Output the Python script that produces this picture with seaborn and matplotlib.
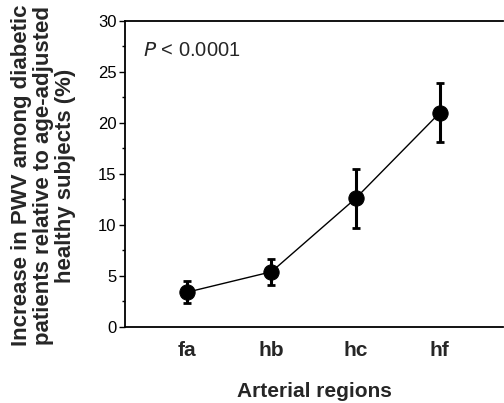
import numpy as np
import matplotlib
matplotlib.use("Agg")
import matplotlib.pyplot as plt
from matplotlib.ticker import MultipleLocator
import seaborn as sns

regions = ["fa", "hb", "hc", "hf"]
increase = [3.4, 5.4, 12.6, 21.0]
err = [1.1, 1.25, 2.9, 2.9]

sns.set_style("ticks")
plt.rcParams['font.family'] = ['Liberation Sans', 'DejaVu Sans']

fig = plt.figure(figsize=[5.04, 4.03], dpi=100)
ax = fig.add_axes([0.248, 0.189, 0.75, 0.759])

x = np.arange(len(regions))
ax.errorbar(x, increase, yerr=err, fmt='none', ecolor='black',
            elinewidth=2.2, capsize=3, capthick=2, zorder=2)
sns.lineplot(x=x, y=increase, color='black', linewidth=1,
             marker='o', markersize=11, markeredgecolor='black', ax=ax,
             zorder=3)

ax.set_xlim(-0.74, 3.75)
ax.set_ylim(0, 30)
ax.yaxis.set_major_locator(MultipleLocator(5))
ax.yaxis.set_minor_locator(MultipleLocator(2.5))
ax.set_xticks(x)
ax.set_xticklabels(regions, fontsize=15, fontweight='bold')
ax.tick_params(axis='x', length=0, pad=10)
ax.tick_params(axis='y', which='major', labelsize=12, length=4, width=1,
               colors='black', pad=2)
ax.tick_params(axis='y', which='minor', length=2, width=1, colors='black')

for side in ['left', 'bottom', 'top']:
    ax.spines[side].set_linewidth(1.3)
    ax.spines[side].set_color('black')
ax.spines['right'].set_visible(False)

ax.set_xlabel("Arterial regions", fontsize=15, fontweight='bold', labelpad=16)
ax.set_ylabel("Increase in PWV among diabetic\npatients relative to age-adjusted\nhealthy subjects (%)",
              fontsize=16, fontweight='bold', linespacing=1.05)
ax.yaxis.set_label_coords(-0.13, 0.494)

ax.text(0.047, 0.935, r"$\it{P}$ < 0.0001", transform=ax.transAxes,
        fontsize=14.5, va='top', ha='left')

fig.savefig("out.png", dpi=100)
